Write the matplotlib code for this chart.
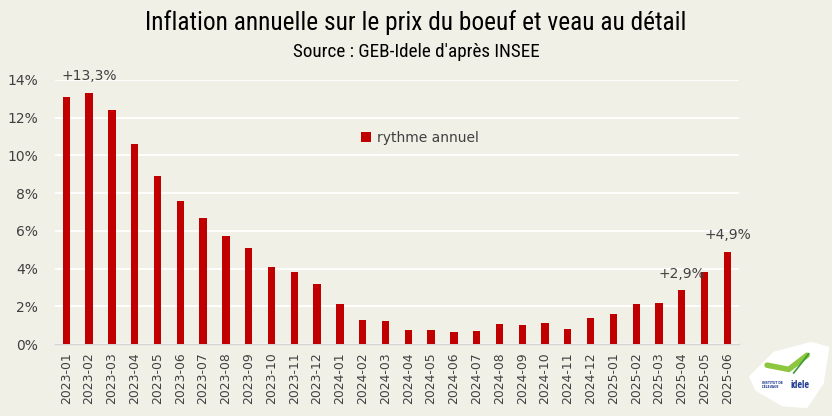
import matplotlib
matplotlib.use("Agg")
import matplotlib.pyplot as plt
from matplotlib import font_manager
from matplotlib.patches import Polygon
from matplotlib.ticker import FuncFormatter

# données : rythme annuel de l'inflation (%)
mois = [
    "2023-01", "2023-02", "2023-03", "2023-04", "2023-05", "2023-06",
    "2023-07", "2023-08", "2023-09", "2023-10", "2023-11", "2023-12",
    "2024-01", "2024-02", "2024-03", "2024-04", "2024-05", "2024-06",
    "2024-07", "2024-08", "2024-09", "2024-10", "2024-11", "2024-12",
    "2025-01", "2025-02", "2025-03", "2025-04", "2025-05", "2025-06",
]
rythme = [
    13.1, 13.3, 12.4, 10.6, 8.9, 7.6,
    6.7, 5.7, 5.1, 4.1, 3.8, 3.2,
    2.1, 1.3, 1.2, 0.75, 0.75, 0.65,
    0.7, 1.05, 1.0, 1.1, 0.8, 1.4,
    1.6, 2.1, 2.2, 2.85, 3.8, 4.9,
]
# étiquettes affichées au-dessus de certaines barres
etiquettes = {"2023-02": "+13,3%", "2025-04": "+2,9%", "2025-06": "+4,9%"}

fond = "#F0F0E7"
rouge = "#C00000"
texte = "#404040"

# police étroite pour le titre, selon ce qui est installé
dispo = {f.name for f in font_manager.fontManager.ttflist}
candidats = ["Roboto Condensed", "Open Sans Condensed", "DejaVu Sans Condensed",
             "Liberation Sans Narrow", "Roboto", "Lato"]
etroite = [c for c in candidats if c in dispo][:1] + ["DejaVu Sans"]
condensee = etroite[0] in ("Roboto Condensed", "Open Sans Condensed",
                           "DejaVu Sans Condensed", "Liberation Sans Narrow")
t_size = 18.3 if condensee else 15.5
s_size = 13.8 if condensee else 11.5

fig = plt.figure(figsize=(8.32, 4.16), dpi=100, facecolor=fond)
ax = fig.add_axes([0.066, 0.173, 0.822, 0.635])
ax.set_facecolor(fond)

x = range(len(mois))
ax.bar(x, rythme, width=0.32, color=rouge, label="rythme annuel", zorder=3)

for i, (m, v) in enumerate(zip(mois, rythme)):
    if m in etiquettes:
        ax.annotate(etiquettes[m], (i, v), xytext=(0, 7), textcoords="offset points",
                    ha="center", va="bottom", fontsize=10, color=texte)

ax.set_xlim(-0.5, len(mois) - 0.5)
ax.set_ylim(0, 14)
ax.set_yticks(range(0, 15, 2))
ax.yaxis.set_major_formatter(FuncFormatter(lambda v, _: f"{int(v)}%"))
ax.set_xticks(list(x))
ax.set_xticklabels(mois, rotation=90, fontsize=8.9, color=texte)
ax.tick_params(axis="y", labelsize=10, labelcolor=texte, pad=12)
ax.tick_params(axis="both", length=0)
ax.tick_params(axis="x", pad=6)
ax.yaxis.grid(True, color="white", linewidth=1.3, zorder=0)
ax.set_axisbelow(True)
for s in ["top", "right", "left"]:
    ax.spines[s].set_visible(False)
ax.spines["bottom"].set_color("#D4D4D4")
ax.spines["bottom"].set_linewidth(1)

ax.legend(loc="center left", bbox_to_anchor=(0.43, 0.78), frameon=False,
          fontsize=10, labelcolor=texte, handlelength=0.7, handleheight=0.7,
          handletextpad=0.4)

fig.text(0.5, 0.945, "Inflation annuelle sur le prix du boeuf et veau au détail",
         ha="center", va="center", fontsize=t_size, family=etroite, color="black")
fig.text(0.5, 0.876, "Source : GEB-Idele d'après INSEE",
         ha="center", va="center", fontsize=s_size, family=etroite, color="black")

# logo Idele (approximatif)
lax = fig.add_axes([0.9, 0.01, 0.1, 0.17])
lax.set_xlim(0, 1)
lax.set_ylim(0, 1)
lax.axis("off")
lax.add_patch(Polygon([[0.0, 0.5], [0.3, 0.85], [0.75, 0.99], [0.97, 0.92],
                       [0.9, 0.4], [0.7, 0.05], [0.4, 0.08], [0.08, 0.3]],
                      closed=True, facecolor="white", edgecolor="none"))
lax.plot([0.22, 0.48, 0.7], [0.66, 0.6, 0.8], color="#8DC63F", linewidth=4,
         solid_capstyle="round")
lax.plot([0.54, 0.72], [0.55, 0.82], color="#3A9A3A", linewidth=1.2)
lax.text(0.16, 0.38, "INSTITUT DE\nL'ÉLEVAGE", fontsize=2.2, color="#1F3A93",
         ha="left", va="center", fontweight="bold")
lax.text(0.5, 0.38, "idele", fontsize=7, color="#1F3A93", ha="left", va="center",
         fontweight="bold", family=etroite)

fig.savefig("out.png", dpi=100, facecolor=fond)
